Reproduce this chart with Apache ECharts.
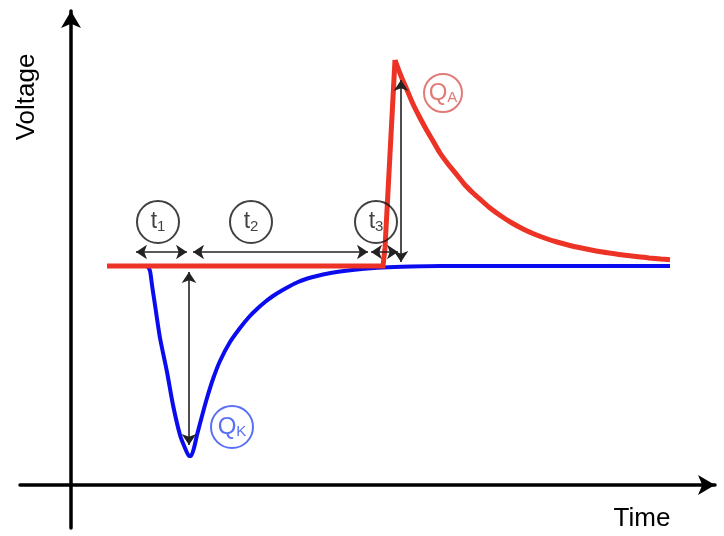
<!DOCTYPE html>
<html>
<head>
<meta charset="utf-8">
<script src="https://cdn.jsdelivr.net/npm/echarts@6/dist/echarts.min.js"></script>
<style>html,body{margin:0;padding:0;background:#fff}#c{width:724px;height:536px}</style>
</head>
<body>
<div id="c"></div>
<script>
// Time / voltage values (arbitrary units)
const redRise = [[36,219],[150,219],[312,219],[314,237],[324,425]];
const redDecay = [[324,425],[330,409],[336,395],[342,381],[348,369],[355,356],[362,344],[369,332],[377,321],[386,310],[394,300],[402,292],[411,284],[419,277],[430,269],[441,262],[452,256],[463,251],[475,246.5],[486,243],[497,240],[508,237.5],[519,235.3],[530,233.3],[541,231.6],[552,230],[565,228.4],[578,227.1],[590,226],[599,225.3]];
const blueCurve = [[36,219],[76,219],[79,214],[81,200],[84,180],[89,147],[96,113],[102,80],[109,50],[114,37],[118,29],[120,29],[123,37],[126,50],[131,69],[136,87],[142,106],[149,124],[159,143],[169,157],[178,168],[186,176],[194,183],[202,189],[210,194],[219,199],[227,203],[235,206],[244,208.5],[252,210.5],[269,213.5],[286,215.5],[312,217.5],[340,218.5],[370,219],[599,219]];
// annotation arrows: [x1,y1,x2,y2]
const arrowSegs = [[65,233,116,233],[122,233,297,233],[300,233,327,233],[118,213,118,40],[330,405,330,223]];
// annotation labels
const tLabels = [['t','1',87,263],['t','2',180,263],['t','3',305,263]];
const qA = ['Q','A',372,392];
const qK = ['Q','K',161,58];
const axisNames = ['Voltage','Time'];

const FONT = 'Liberation Sans, Arial, Helvetica, sans-serif';
const RED = '#ec3326', BLUE = '#0b0bf0', QRED = '#d95a55', QBLUE = '#2f4cf2';

function circleSeries(items, color, size, fs) {
  return {
    type: 'scatter', symbol: 'circle', symbolSize: size, z: 5,
    itemStyle: {color: 'rgba(0,0,0,0)', borderColor: color, borderWidth: 2},
    label: {
      show: true, position: 'inside',
      formatter: p => '{b|' + p.data.m + '}{s|' + p.data.sub + '}',
      rich: {
        b: {fontFamily: FONT, fontSize: fs, color: color},
        s: {fontFamily: FONT, fontSize: 15, color: color, padding: [9,0,0,0]}
      }
    },
    data: items.map(d => ({value: [d[2], d[3]], m: d[0], sub: d[1]}))
  };
}

const chart = echarts.init(document.getElementById('c'));
chart.setOption({
  animation: false,
  grid: {left: 20, right: 9, top: 11, bottom: 8},
  xAxis: {
    type: 'value', min: -51, max: 644,
    axisLine: {onZero: true, symbol: ['none','arrow'], symbolSize: [15,17], lineStyle: {color: '#000', width: 3.5}},
    axisTick: {show: false}, axisLabel: {show: false}, splitLine: {show: false}
  },
  yAxis: {
    type: 'value', min: -43, max: 474,
    axisLine: {onZero: true, symbol: ['none','arrow'], symbolSize: [15,17], lineStyle: {color: '#000', width: 3.5}},
    axisTick: {show: false}, axisLabel: {show: false}, splitLine: {show: false}
  },
  graphic: [
    {type: 'text', x: 27, y: 97, rotation: Math.PI/2, style: {text: axisNames[0], font: '26px ' + FONT, fill: '#000', textAlign: 'center', textVerticalAlign: 'middle'}},
    {type: 'text', x: 642, y: 519, style: {text: axisNames[1], font: '26px ' + FONT, fill: '#000', textAlign: 'center', textVerticalAlign: 'middle'}}
  ],
  series: [
    {type: 'line', data: blueCurve, smooth: 0.2, symbol: 'none', z: 2, lineStyle: {color: BLUE, width: 4}},
    {type: 'line', data: redRise, smooth: false, symbol: 'none', z: 3, lineStyle: {color: RED, width: 5, join: 'miter'}},
    {type: 'line', data: redDecay, smooth: 0.3, symbol: 'none', z: 3, lineStyle: {color: RED, width: 5}},
    {
      type: 'lines', coordinateSystem: 'cartesian2d', z: 4,
      symbol: ['arrow','arrow'], symbolSize: 11,
      lineStyle: {color: '#222', width: 1.6, opacity: 1},
      data: arrowSegs.map(a => ({coords: [[a[0],a[1]],[a[2],a[3]]]}))
    },
    circleSeries(tLabels, '#111', 42, 23),
    circleSeries([qA], QRED, 38, 24),
    circleSeries([qK], QBLUE, 42, 24)
  ]
});
</script>
</body>
</html>
